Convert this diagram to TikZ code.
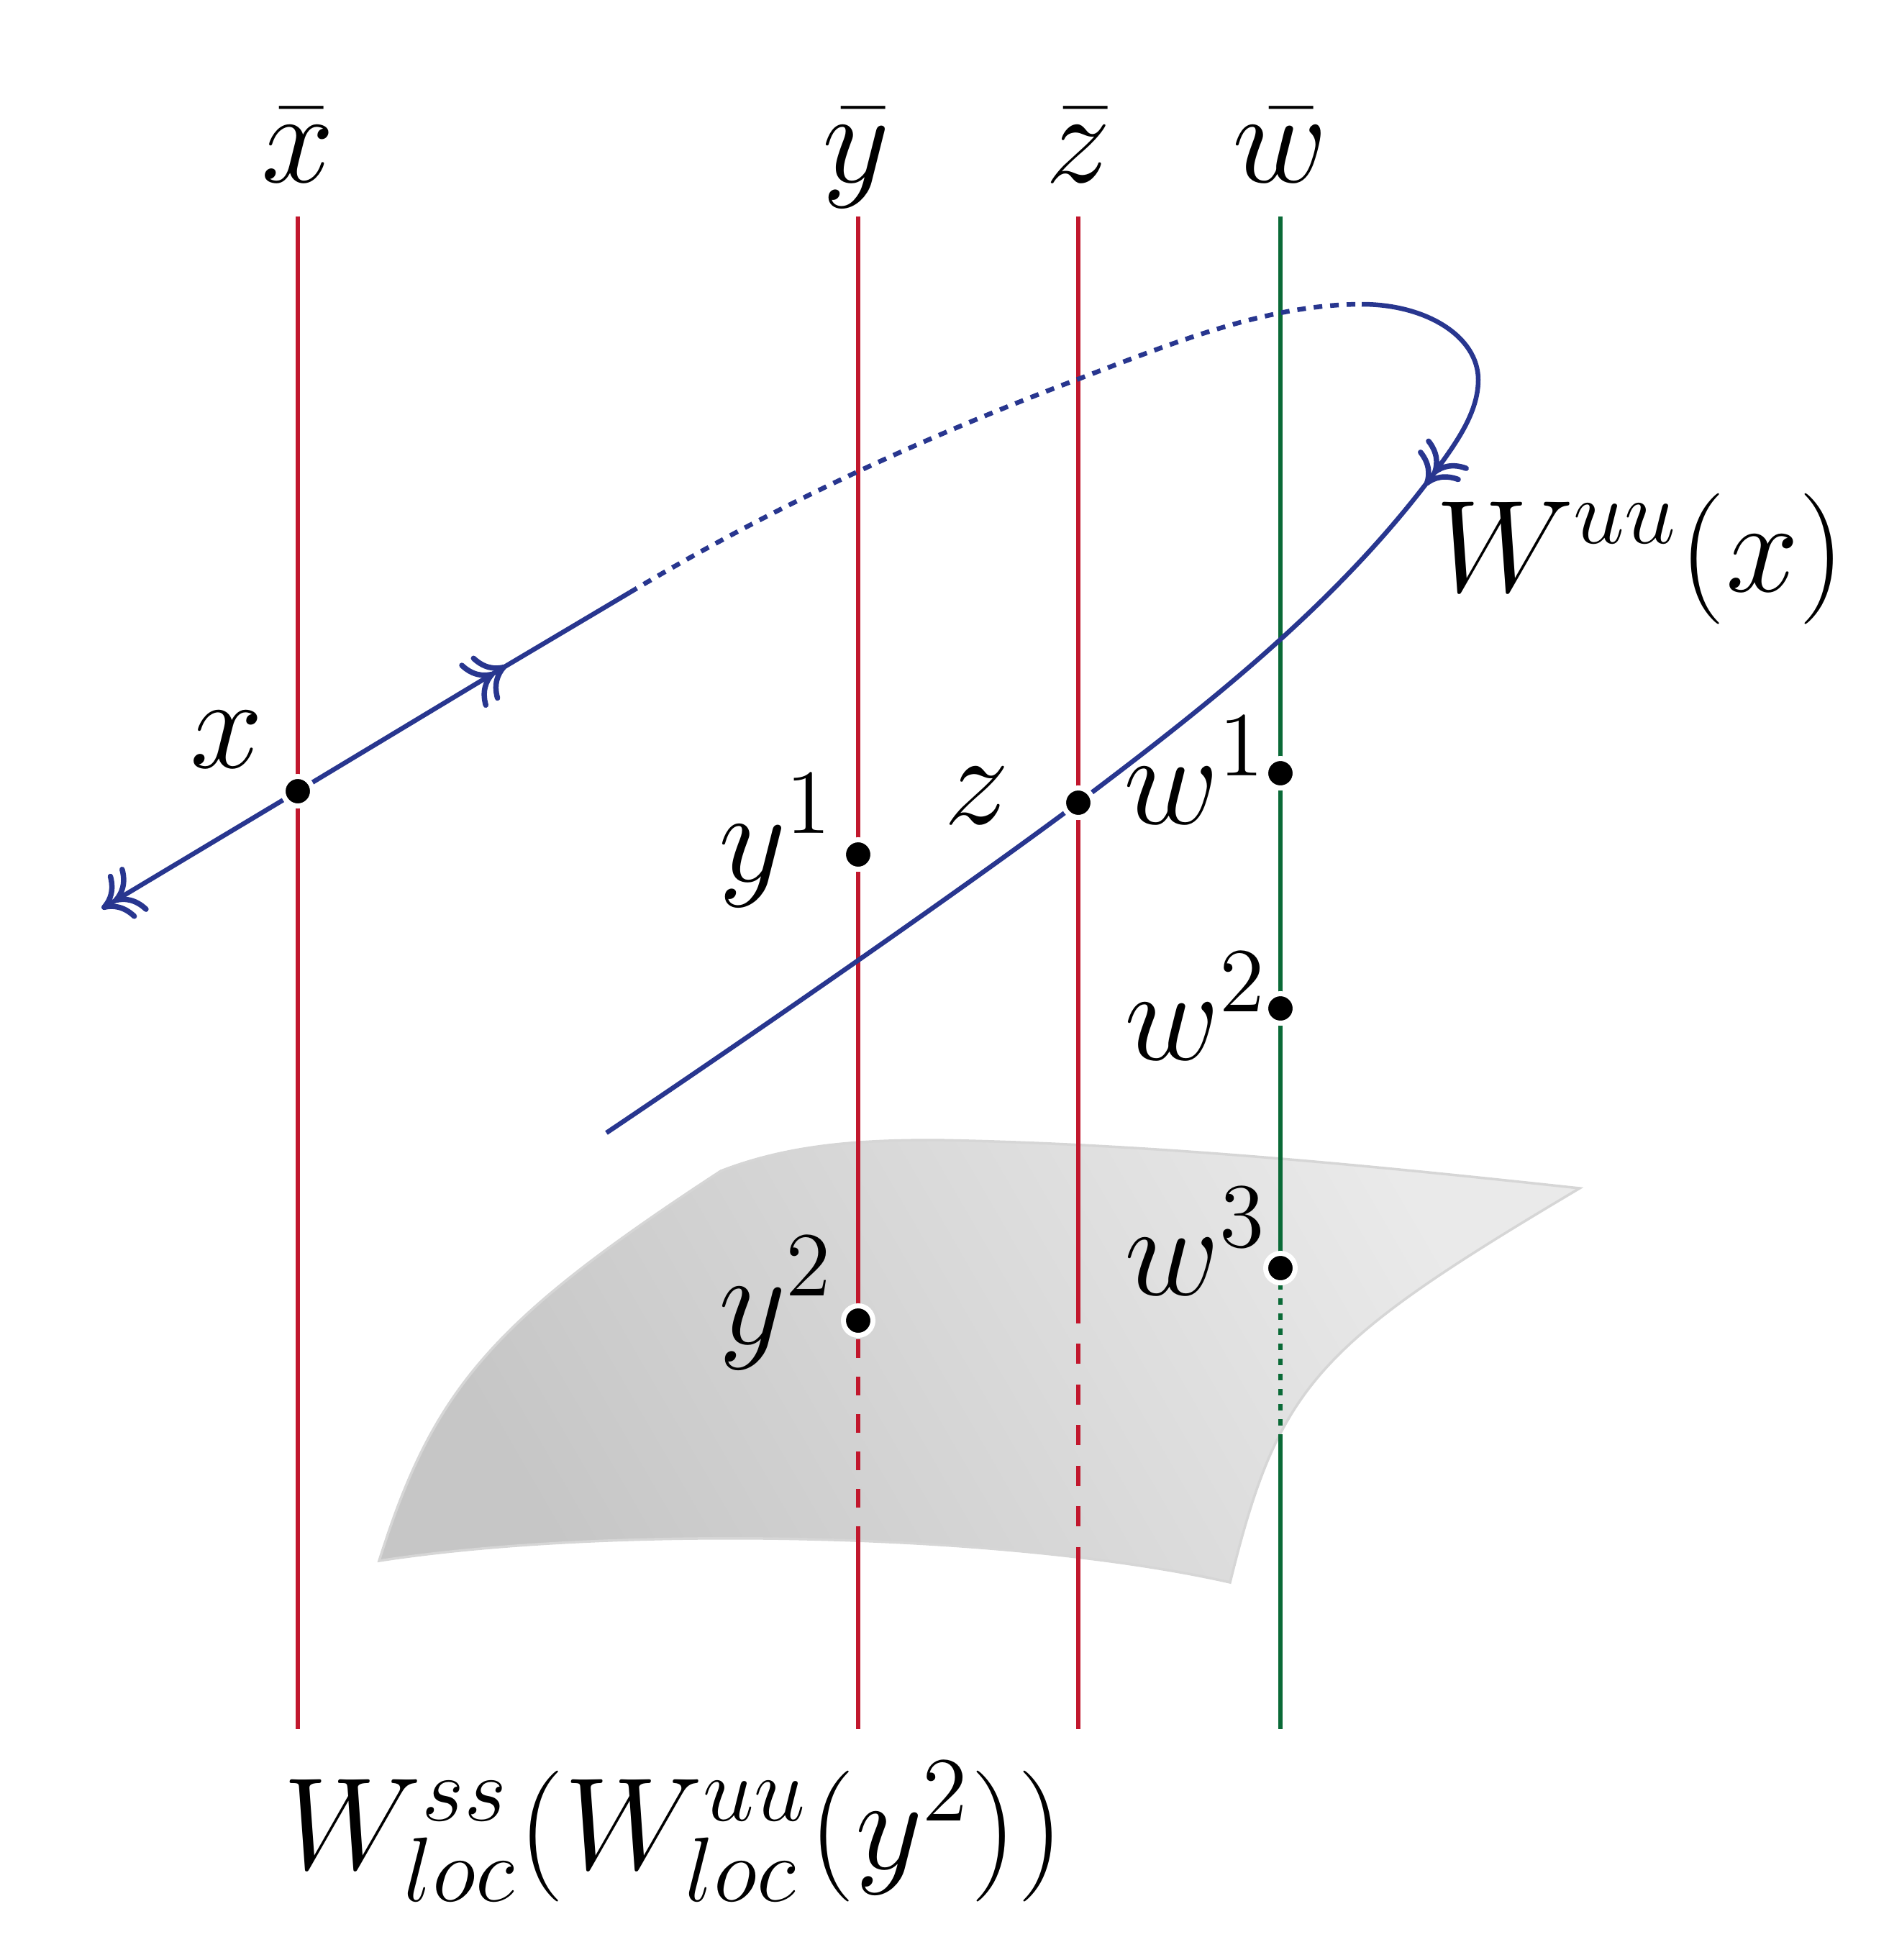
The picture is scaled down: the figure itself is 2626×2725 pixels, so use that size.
\RequirePackage{fix-cm}
\documentclass[tikz,border=0pt]{standalone}
\usetikzlibrary{arrows.meta}
\definecolor{lred}{RGB}{193,23,45}
\definecolor{lgreen}{RGB}{10,106,55}
\definecolor{lblue}{RGB}{40,54,143}
\definecolor{surfdark}{RGB}{198,198,198}
\definecolor{surflight}{RGB}{234,234,234}
\definecolor{surfedge}{RGB}{214,214,214}
\tikzset{
  redline/.style={draw=lred, line width=0.55pt},
  greenline/.style={draw=lgreen, line width=0.55pt},
  blueline/.style={draw=lblue, line width=0.65pt},
  dot/.style={circle, fill=black, draw=white, line width=0.7pt, minimum size=4.1pt, inner sep=0pt, outer sep=0pt},
  lbl/.style={inner sep=0pt, outer sep=0pt, font=\fontsize{18.2}{22}\selectfont},
  dbl/.style={-{Computer Modern Rightarrow[length=3.7pt,width=7.2pt,line width=0.75pt,sep=-1.8pt]Computer Modern Rightarrow[length=3.7pt,width=7.2pt,line width=0.75pt,sep=-1.8pt]}},
}
\begin{document}
\begin{tikzpicture}[x=0.1pt,y=-0.1pt]
\useasboundingbox (0,0) rectangle (2626,2725);

% surface
\path[draw=surfedge, line width=0.35pt, shading=axis, top color=surflight, bottom color=surfdark, shading angle=-60]
 (527,2170) .. controls (603,1929) and (684,1836) .. (1002,1628)
 .. controls (1100,1590) and (1200,1585) .. (1300,1585)
 .. controls (1600,1590) and (1900,1620) .. (2196,1652)
 .. controls (1827,1871) and (1778,1926) .. (1710,2200)
 .. controls (1400,2130) and (850,2120) .. (527,2170) -- cycle;

% coordinates
\coordinate (xt) at (414,301);  \coordinate (xb) at (414,2404);
\coordinate (yt) at (1193,301); \coordinate (yb) at (1193,2404);
\coordinate (zt) at (1499,301); \coordinate (zb) at (1499,2404);
\coordinate (wt) at (1780,301); \coordinate (wb) at (1780,2404);
\coordinate (px) at (414,1100);
\coordinate (py1) at (1193,1188);
\coordinate (py2) at (1193,1836);
\coordinate (pz) at (1499,1116);
\coordinate (pw1) at (1780,1075);
\coordinate (pw2) at (1780,1402);
\coordinate (pw3) at (1780,1763);
\coordinate (ys) at (1193,2127);
\coordinate (zs1) at (1499,1840);
\coordinate (zs2) at (1499,2152);
\coordinate (ws) at (1780,1994);

% vertical lines
\draw[redline] (xt) -- (xb);
\draw[redline] (yt) -- (py2);
\draw[redline, dash pattern=on 2.6pt off 2.6pt, dash phase=2.6pt] (py2) -- (ys);
\draw[redline] (ys) -- (yb);
\draw[redline] (zt) -- (zs1);
\draw[redline, dash pattern=on 2.8pt off 2.85pt, dash phase=2.85pt] (zs1) -- (zs2);
\draw[redline] (zs2) -- (zb);
\draw[greenline] (wt) -- (pw3);
\draw[greenline, dash pattern=on 0.9pt off 1.2pt] (pw3) -- (ws);
\draw[greenline] (ws) -- (wb);

% blue curve
\coordinate (pA) at (157,1254);
\coordinate (pm) at (688,935);
\coordinate (pd0) at (875,824);
\coordinate (pd1) at (1499,527);
\coordinate (ptop) at (1893,423);
\coordinate (pr) at (2055,528);
\coordinate (ptip) at (1992,660);
\coordinate (pend) at (843,1575);
\draw[blueline, dbl] (px) -- (pA);
\draw[blueline, dbl] (px) -- (pm);
\draw[blueline] (pm) -- (pd0);
\draw[blueline, dash pattern=on 1.2pt off 1.1pt] (pd0) .. controls (1084,699) and (1290,606) .. (pd1)
  .. controls (1630,477) and (1762,423) .. (ptop);
\draw[blueline, dbl] (ptop) .. controls (1983,423) and (2055,468) .. (pr)
  .. controls (2055,578) and (2018,624) .. (ptip);
\draw[blueline] (ptip) .. controls (1856,842) and (1674,984) .. (pz)
  .. controls (1322,1248) and (1026,1452) .. (pend);

% dots
\node[dot] (x) at (px) {};
\node[dot] (y1) at (py1) {};
\node[dot] (y2) at (py2) {};
\node[dot] (z) at (pz) {};
\node[dot] (w1) at (pw1) {};
\node[dot] (w2) at (pw2) {};
\node[dot] (w3) at (pw3) {};

% labels
\node[lbl, anchor=base] (lxbar) at (414,253) {$\bar{x}$};
\node[lbl, anchor=base] (lybar) at (1190,253) {$\bar{y}$};
\node[lbl, anchor=base] (lzbar) at (1499,253) {$\bar{z}$};
\node[lbl, anchor=base] (lwbar) at (1780,253) {$\bar{w}$};
\node[lbl, anchor=base east] (lx) at (366,1067) {$x$};
\node[lbl, anchor=base east] (ly1) at (1160,1225) {$y^1$};
\node[lbl, anchor=base east] (lz) at (1403,1145) {$z$};
\node[lbl, anchor=base east] (lw1) at (1762,1145) {$w^1$};
\node[lbl, anchor=base east] (lw2) at (1763,1473) {$w^2$};
\node[lbl, anchor=base east] (lw3) at (1763,1800) {$w^3$};
\node[lbl, anchor=base east] (ly2) at (1160,1868) {$y^2$};
\node[lbl, anchor=base west] (lW) at (1995,822) {$W^{uu}(x)$};
\node[lbl, anchor=base] (lbot) at (936,2598) {$W^{ss}_{loc}(W^{uu}_{loc}(y^2))$};
\end{tikzpicture}
\end{document}
